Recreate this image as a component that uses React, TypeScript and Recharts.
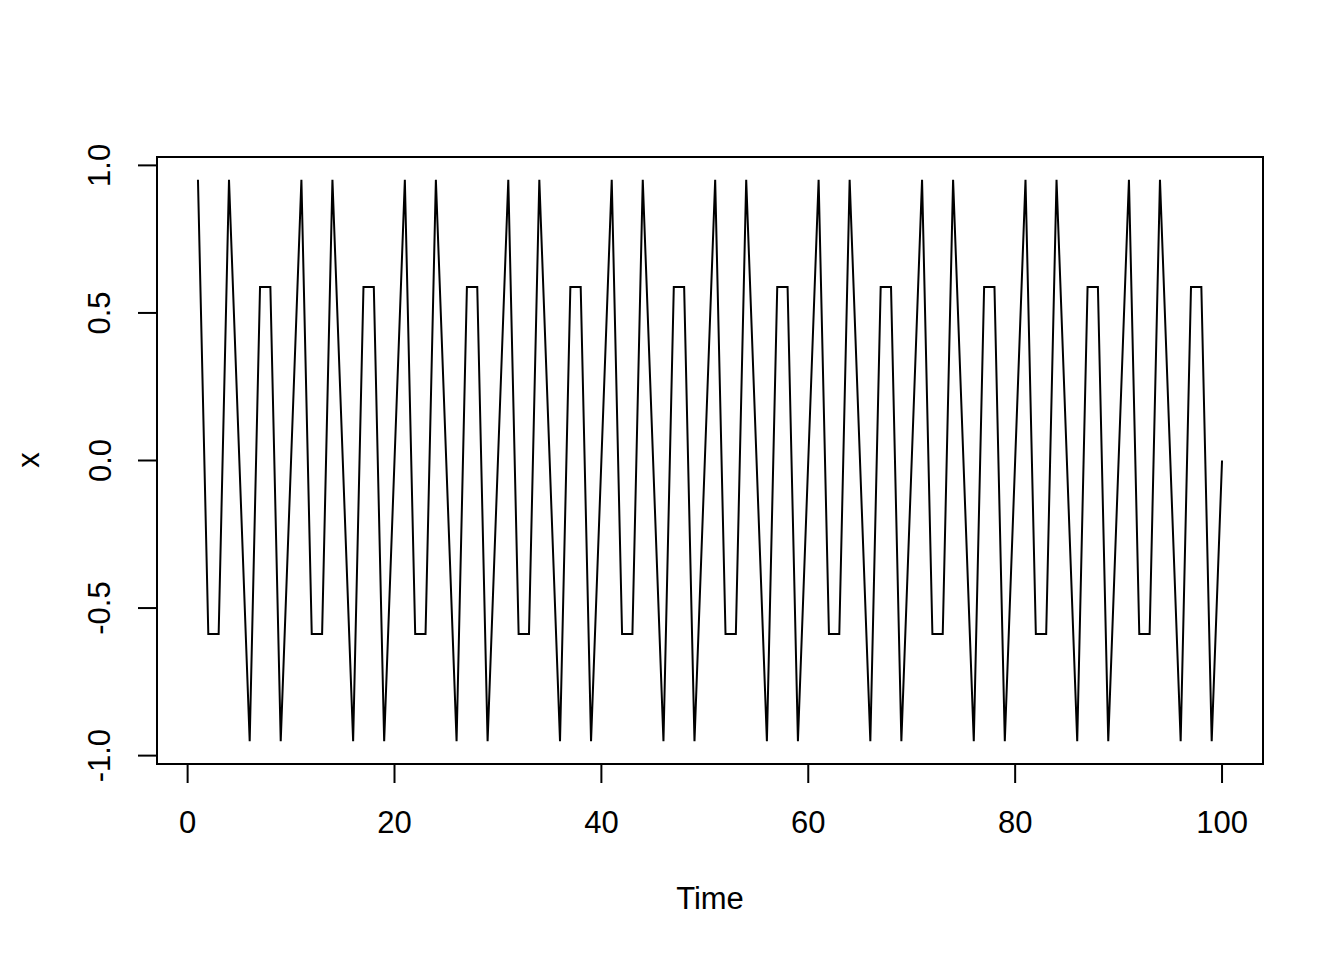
import React from "react";
import { LineChart, Line, XAxis, YAxis, ReferenceArea, Label } from "recharts";

const times: number[] = [
  1, 2, 3, 4, 5, 6, 7, 8, 9, 10,
  11, 12, 13, 14, 15, 16, 17, 18, 19, 20,
  21, 22, 23, 24, 25, 26, 27, 28, 29, 30,
  31, 32, 33, 34, 35, 36, 37, 38, 39, 40,
  41, 42, 43, 44, 45, 46, 47, 48, 49, 50,
  51, 52, 53, 54, 55, 56, 57, 58, 59, 60,
  61, 62, 63, 64, 65, 66, 67, 68, 69, 70,
  71, 72, 73, 74, 75, 76, 77, 78, 79, 80,
  81, 82, 83, 84, 85, 86, 87, 88, 89, 90,
  91, 92, 93, 94, 95, 96, 97, 98, 99, 100,
];

const xValues: number[] = [
  0.951, -0.588, -0.588, 0.951, 0, -0.951, 0.588, 0.588, -0.951, 0,
  0.951, -0.588, -0.588, 0.951, 0, -0.951, 0.588, 0.588, -0.951, 0,
  0.951, -0.588, -0.588, 0.951, 0, -0.951, 0.588, 0.588, -0.951, 0,
  0.951, -0.588, -0.588, 0.951, 0, -0.951, 0.588, 0.588, -0.951, 0,
  0.951, -0.588, -0.588, 0.951, 0, -0.951, 0.588, 0.588, -0.951, 0,
  0.951, -0.588, -0.588, 0.951, 0, -0.951, 0.588, 0.588, -0.951, 0,
  0.951, -0.588, -0.588, 0.951, 0, -0.951, 0.588, 0.588, -0.951, 0,
  0.951, -0.588, -0.588, 0.951, 0, -0.951, 0.588, 0.588, -0.951, 0,
  0.951, -0.588, -0.588, 0.951, 0, -0.951, 0.588, 0.588, -0.951, 0,
  0.951, -0.588, -0.588, 0.951, 0, -0.951, 0.588, 0.588, -0.951, 0,
];

const xTicks: number[] = [0, 20, 40, 60, 80, 100];
const yTicks: number[] = [-1.0, -0.5, 0.0, 0.5, 1.0];
const yTickLabels: string[] = ["-1.0", "-0.5", "0.0", "0.5", "1.0"];

const data = times.map((t, i) => ({ t, x: xValues[i] }));

const X_DOMAIN: [number, number] = [-2.96, 103.96];
const Y_DOMAIN: [number, number] = [-1.0284, 1.0284];
const FONT = "'Liberation Sans', Arial, Helvetica, sans-serif";
const FS = 31;

const XTick = (props: any) => {
  const { x, payload } = props;
  return (
    <text x={x} y={822} textAnchor="middle" dominantBaseline="central" fontFamily={FONT} fontSize={FS} fill="#000">
      {String(payload.value)}
    </text>
  );
};

const YTick = (props: any) => {
  const { y, payload } = props;
  const idx = yTicks.indexOf(payload.value);
  const label = idx >= 0 ? yTickLabels[idx] : String(payload.value);
  return (
    <text x={100} y={y} transform={`rotate(-90, 100, ${y})`} textAnchor="middle" dominantBaseline="central" fontFamily={FONT} fontSize={FS} fill="#000">
      {label}
    </text>
  );
};

export default function App() {
  return (
    <div style={{ position: "absolute", left: 0, top: 0, width: 1344, height: 960, background: "#fff" }}>
      <LineChart width={1344} height={960} data={data} margin={{ top: 157, right: 81, bottom: 136, left: 97 }}>
        <XAxis
          dataKey="t"
          type="number"
          domain={X_DOMAIN}
          ticks={xTicks}
          allowDataOverflow
          height={60}
          axisLine={false}
          tickSize={19}
          tickLine={{ stroke: "#000", strokeWidth: 2 }}
          tick={<XTick />}
          interval={0}
        >
          <Label
            content={() => (
              <text x={710} y={898} textAnchor="middle" dominantBaseline="central" fontFamily={FONT} fontSize={FS} fill="#000">
                Time
              </text>
            )}
          />
        </XAxis>
        <YAxis
          type="number"
          domain={Y_DOMAIN}
          ticks={yTicks}
          allowDataOverflow
          width={60}
          axisLine={false}
          tickSize={19}
          tickLine={{ stroke: "#000", strokeWidth: 2 }}
          tick={<YTick />}
          interval={0}
        >
          <Label
            content={() => (
              <text x={28} y={460} transform="rotate(-90, 28, 460)" textAnchor="middle" dominantBaseline="central" fontFamily={FONT} fontSize={FS} fill="#000">
                x
              </text>
            )}
          />
        </YAxis>
        <ReferenceArea
          x1={X_DOMAIN[0]}
          x2={X_DOMAIN[1]}
          y1={Y_DOMAIN[0]}
          y2={Y_DOMAIN[1]}
          fill="none"
          fillOpacity={0}
          stroke="#000"
          strokeWidth={2}
          ifOverflow="visible"
        />
        <Line
          dataKey="x"
          type="linear"
          stroke="#000"
          strokeWidth={2}
          dot={false}
          activeDot={false}
          isAnimationActive={false}
        />
      </LineChart>
    </div>
  );
}
